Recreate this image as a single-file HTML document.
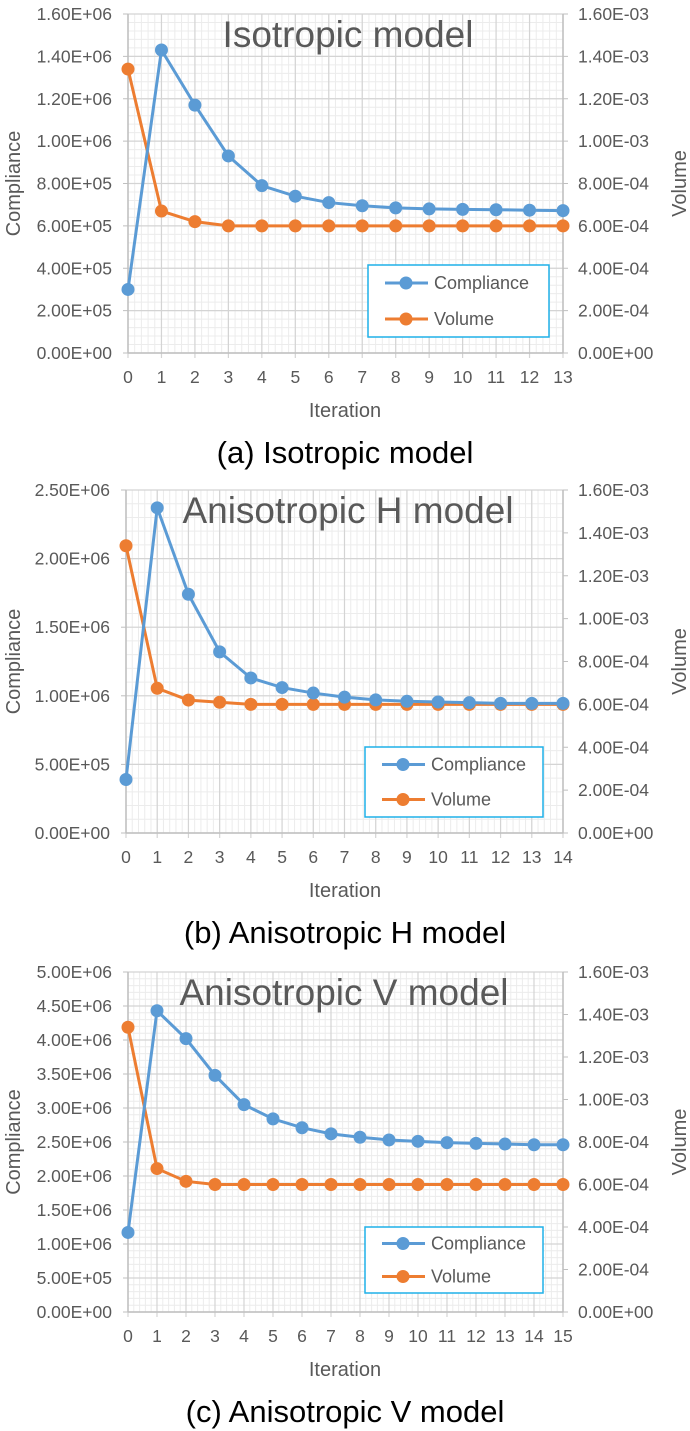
<!DOCTYPE html>
<html><head><meta charset="utf-8"><style>
body{margin:0;background:#fff;width:690px;height:1431px;overflow:hidden}
svg{display:block;font-family:"Liberation Sans",sans-serif}
</style></head><body>
<svg id="s" width="690" height="1431"></svg>
<script>
const c1Compliance=[3.0e5,1.43e6,1.17e6,9.3e5,7.9e5,7.4e5,7.1e5,6.95e5,6.85e5,6.8e5,6.78e5,6.76e5,6.74e5,6.72e5];
const c1Volume=[1.34e-3,6.7e-4,6.2e-4,6.0e-4,6.0e-4,6.0e-4,6.0e-4,6.0e-4,6.0e-4,6.0e-4,6.0e-4,6.0e-4,6.0e-4,6.0e-4];
const c2Compliance=[3.9e5,2.37e6,1.74e6,1.32e6,1.13e6,1.06e6,1.02e6,9.9e5,9.7e5,9.6e5,9.55e5,9.5e5,9.45e5,9.45e5,9.45e5];
const c2Volume=[1.34e-3,6.75e-4,6.2e-4,6.1e-4,6.0e-4,6.0e-4,6.0e-4,6.0e-4,6.0e-4,6.0e-4,6.0e-4,6.0e-4,6.0e-4,6.0e-4,6.0e-4];
const c3Compliance=[1.17e6,4.43e6,4.02e6,3.48e6,3.05e6,2.84e6,2.71e6,2.62e6,2.57e6,2.53e6,2.51e6,2.49e6,2.48e6,2.47e6,2.46e6,2.46e6];
const c3Volume=[1.34e-3,6.75e-4,6.15e-4,6.0e-4,6.0e-4,6.0e-4,6.0e-4,6.0e-4,6.0e-4,6.0e-4,6.0e-4,6.0e-4,6.0e-4,6.0e-4,6.0e-4,6.0e-4];
const c1LeftTicks=["0.00E+00","2.00E+05","4.00E+05","6.00E+05","8.00E+05","1.00E+06","1.20E+06","1.40E+06","1.60E+06"];
const c2LeftTicks=["0.00E+00","5.00E+05","1.00E+06","1.50E+06","2.00E+06","2.50E+06"];
const c3LeftTicks=["0.00E+00","5.00E+05","1.00E+06","1.50E+06","2.00E+06","2.50E+06","3.00E+06","3.50E+06","4.00E+06","4.50E+06","5.00E+06"];
const rightTicks=["0.00E+00","2.00E-04","4.00E-04","6.00E-04","8.00E-04","1.00E-03","1.20E-03","1.40E-03","1.60E-03"];

const NS="http://www.w3.org/2000/svg";
const svg=document.getElementById('s');
function mk(tag,attrs,parent,text){const e=document.createElementNS(NS,tag);for(const k in attrs)e.setAttribute(k,attrs[k]);if(text!==undefined)e.textContent=text;(parent||svg).appendChild(e);return e;}

function chart(o){
  const g=mk('g',{});
  
  
  const n=o.comp.length-1;
  const x=i=>o.x0+(o.x1-o.x0)*i/n;
  const yL=v=>o.yb-(o.yb-o.yt)*v/o.lmax;
  const yR=v=>o.yb-(o.yb-o.yt)*v/1.6e-3;
  const nL=o.lticks.length-1;
  for(let k=0;k<=nL*5;k++){const yy=o.yb-(o.yb-o.yt)*k/(nL*5);mk('line',{x1:o.x0,x2:o.x1,y1:yy,y2:yy,stroke:'#ececec','stroke-width':1},g);}
  for(let k=0;k<=n*5;k++){const xx=o.x0+(o.x1-o.x0)*k/(n*5);mk('line',{x1:xx,x2:xx,y1:o.yt,y2:o.yb,stroke:'#ececec','stroke-width':1},g);}
  for(let k=0;k<=nL;k++){const yy=o.yb-(o.yb-o.yt)*k/nL;mk('line',{x1:o.x0,x2:o.x1,y1:yy,y2:yy,stroke:'#d4d4d4','stroke-width':1.2},g);}
  for(let i=0;i<=n;i++){mk('line',{x1:x(i),x2:x(i),y1:o.yt,y2:o.yb+5,stroke:'#d4d4d4','stroke-width':1.2},g);}
  mk('line',{x1:o.x0,x2:o.x0,y1:o.yt,y2:o.yb,stroke:'#bfbfbf','stroke-width':1.5},g);
  mk('line',{x1:o.x1,x2:o.x1,y1:o.yt,y2:o.yb,stroke:'#bfbfbf','stroke-width':1.5},g);
  mk('line',{x1:o.x0,x2:o.x1,y1:o.yb,y2:o.yb,stroke:'#bfbfbf','stroke-width':1.5},g);
  for(let k=0;k<=nL;k++){const yy=o.yb-(o.yb-o.yt)*k/nL;
    mk('line',{x1:o.x0-5,x2:o.x0,y1:yy,y2:yy,stroke:'#bfbfbf'},g);
    const t=mk('text',{x:o.x0-16,y:yy+6,'text-anchor':'end','font-size':17.5,fill:'#595959'},g,o.lticks[k]);
    }
  for(let k=0;k<rightTicks.length;k++){const yy=o.yb-(o.yb-o.yt)*k/8;
    mk('line',{x1:o.x1,x2:o.x1+5,y1:yy,y2:yy,stroke:'#bfbfbf'},g);
    const t=mk('text',{x:o.x1+15,y:yy+6,'font-size':17.5,fill:'#595959'},g,rightTicks[k]);
    }
  for(let i=0;i<=n;i++){const t=mk('text',{x:x(i),y:o.yb+30,'text-anchor':'middle','font-size':17.5,fill:'#595959'},g,String(i));
    }
  let t=mk('text',{x:345,y:o.yb+64,'text-anchor':'middle','font-size':20,fill:'#595959'},g,'Iteration');
  
  const ym=(o.yt+o.yb)/2;
  t=mk('text',{x:0,y:0,'text-anchor':'middle','font-size':20,fill:'#595959',transform:`translate(20,${ym}) rotate(-90)`},g,'Compliance');
  
  t=mk('text',{x:0,y:0,'text-anchor':'middle','font-size':20,fill:'#595959',transform:`translate(686,${ym}) rotate(-90)`},g,'Volume');
  
  t=mk('text',{x:o.tx,y:o.yt+33,'text-anchor':'middle','font-size':37,fill:'#595959'},g,o.title);
  
  t=mk('text',{x:345,y:o.yb+110,'text-anchor':'middle','font-size':31,fill:'#000'},g,o.caption);
  
  function series(vals,fy,col,nm){
    const s=mk('g',{},g);
    mk('polyline',{points:vals.map((v,i)=>x(i)+','+fy(v)).join(' '),fill:'none',stroke:col,'stroke-width':3},s);
    vals.forEach((v,i)=>{const c=mk('circle',{cx:x(i),cy:fy(v),r:6.5,fill:col},s);
      });
  }
  series(o.vol,yR,'#ED7D31','volume-series');
  series(o.comp,yL,'#5B9BD5','compliance-series');
  const L=o.leg;const lg=mk('g',{},g);
  mk('rect',{x:L[0],y:L[1],width:L[2],height:L[3],fill:'#fff',stroke:'#1fb0e8','stroke-width':1.5},lg);
  [['Compliance','#5B9BD5',0.25],['Volume','#ED7D31',0.75]].forEach(([lab,col,f])=>{
    const yy=L[1]+L[3]*f;
    mk('line',{x1:L[0]+17,x2:L[0]+60,y1:yy,y2:yy,stroke:col,'stroke-width':3},lg);
    mk('circle',{cx:L[0]+38,cy:yy,r:6.5,fill:col},lg);
    const e=mk('text',{x:L[0]+66,y:yy+6,'font-size':18,fill:'#595959'},lg,lab);
    
  });
}
chart({name:'isotropic-chart',comp:c1Compliance,vol:c1Volume,lmax:1.6e6,lticks:c1LeftTicks,x0:128,x1:563,yt:14,yb:353,title:'Isotropic model',tx:348,caption:'(a) Isotropic model',leg:[368,265,181,72]});
chart({name:'anisotropic-h-chart',comp:c2Compliance,vol:c2Volume,lmax:2.5e6,lticks:c2LeftTicks,x0:126,x1:563,yt:490,yb:833,title:'Anisotropic H model',tx:348,caption:'(b) Anisotropic H model',leg:[365,747,178,70]});
chart({name:'anisotropic-v-chart',comp:c3Compliance,vol:c3Volume,lmax:5e6,lticks:c3LeftTicks,x0:128,x1:563,yt:972,yb:1312,title:'Anisotropic V model',tx:344,caption:'(c) Anisotropic V model',leg:[365,1227,178,66]});
</script>
</body></html>
